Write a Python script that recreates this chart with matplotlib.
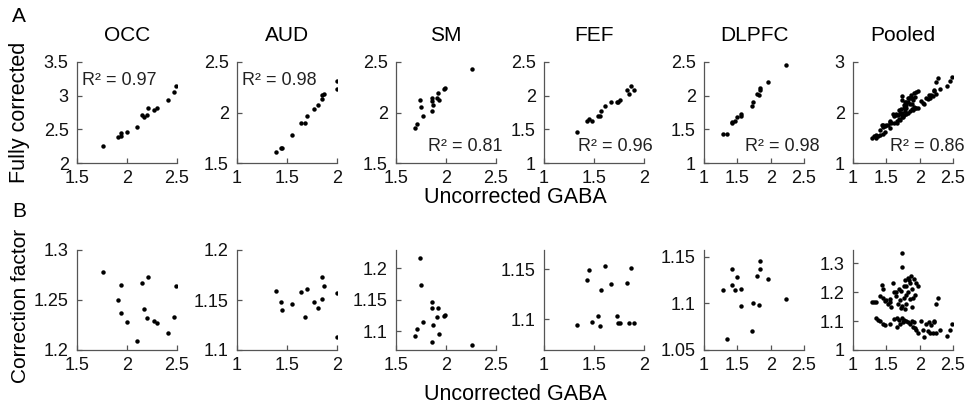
import matplotlib
matplotlib.use('Agg')
import matplotlib.pyplot as plt
import numpy as np
from matplotlib.ticker import FuncFormatter

plt.rcParams['font.family'] = ['Liberation Sans', 'DejaVu Sans']

# ---- data ----
regions = ['OCC', 'AUD', 'SM', 'FEF', 'DLPFC', 'Pooled']
r2_values = ['0.97', '0.98', '0.81', '0.96', '0.98', '0.86']

occ_unc = [1.76, 1.91, 1.94, 1.94, 2.00, 2.10, 2.15, 2.17, 2.20, 2.21, 2.27, 2.30, 2.41, 2.47, 2.49]
occ_full = [2.25, 2.39, 2.45, 2.40, 2.46, 2.54, 2.72, 2.69, 2.71, 2.81, 2.79, 2.82, 2.93, 3.05, 3.15]
occ_cf = [1.278, 1.250, 1.265, 1.237, 1.228, 1.209, 1.267, 1.241, 1.232, 1.273, 1.229, 1.227, 1.217, 1.233, 1.264]

aud_unc = [1.39, 1.44, 1.45, 1.55, 1.64, 1.68, 1.70, 1.77, 1.81, 1.85, 1.85, 1.87, 2.00, 2.00]
aud_full = [1.61, 1.65, 1.65, 1.78, 1.90, 1.90, 1.97, 2.03, 2.07, 2.17, 2.13, 2.18, 2.31, 2.23]
aud_cf = [1.159, 1.148, 1.140, 1.146, 1.158, 1.133, 1.161, 1.148, 1.142, 1.173, 1.151, 1.164, 1.157, 1.113]

sm_unc = [1.69, 1.71, 1.74, 1.75, 1.77, 1.86, 1.87, 1.86, 1.86, 1.91, 1.92, 1.93, 1.98, 1.99, 2.26]
sm_full = [1.85, 1.89, 2.12, 2.05, 1.97, 2.01, 2.07, 2.11, 2.14, 2.14, 2.19, 2.12, 2.23, 2.24, 2.43]
sm_cf = [1.092, 1.103, 1.217, 1.174, 1.115, 1.083, 1.110, 1.137, 1.147, 1.123, 1.137, 1.096, 1.124, 1.125, 1.078]

fef_unc = [1.33, 1.43, 1.45, 1.48, 1.54, 1.56, 1.57, 1.61, 1.67, 1.73, 1.74, 1.76, 1.83, 1.85, 1.87, 1.90]
fef_full = [1.46, 1.63, 1.66, 1.62, 1.70, 1.70, 1.77, 1.85, 1.90, 1.91, 1.91, 1.93, 2.08, 2.03, 2.15, 2.08]
fef_cf = [1.094, 1.139, 1.149, 1.097, 1.103, 1.093, 1.129, 1.153, 1.135, 1.103, 1.096, 1.096, 1.136, 1.096, 1.151, 1.096]

dlpfc_unc = [1.28, 1.35, 1.415, 1.415, 1.465, 1.50, 1.55, 1.55, 1.715, 1.74, 1.79, 1.83, 1.84, 1.84, 1.965, 2.23]
dlpfc_full = [1.43, 1.43, 1.61, 1.59, 1.63, 1.69, 1.73, 1.70, 1.84, 1.91, 2.02, 2.01, 2.11, 2.09, 2.21, 2.46]
dlpfc_cf = [1.114, 1.062, 1.137, 1.120, 1.114, 1.129, 1.116, 1.097, 1.070, 1.100, 1.130, 1.098, 1.146, 1.137, 1.126, 1.105]

pool_unc = [1.28, 1.31, 1.34, 1.40, 1.43, 1.45, 1.45, 1.48, 1.50, 1.52, 1.55, 1.57, 1.56, 1.60, 1.62, 1.65,
            1.69, 1.72, 1.70, 1.74, 1.74, 1.74, 1.76, 1.78, 1.80, 1.82, 1.84, 1.86, 1.80, 1.83, 1.88, 1.76,
            1.79, 1.85, 1.90, 1.93, 1.95, 1.88, 1.78, 1.72, 1.98, 1.92, 1.87, 1.68, 1.64,
            1.34, 1.38, 1.41, 1.45, 1.48, 1.56, 1.62, 1.66, 1.69, 1.73, 1.77, 1.66, 1.70, 1.75, 1.80, 1.83,
            1.86, 1.88, 1.90, 1.93, 1.95, 1.97, 1.92,
            2.07, 2.10, 2.14, 2.17, 2.12, 2.16, 2.20, 2.24, 2.22, 2.21, 2.25, 2.28, 2.30, 2.41, 2.46, 2.48,
            2.02, 2.05]
pool_full = [1.49, 1.53, 1.56, 1.66, 1.75, 1.76, 1.71, 1.73, 1.76, 1.76, 1.81, 1.80, 1.83, 1.97, 1.94, 1.96,
             2.05, 2.07, 2.00, 2.00, 2.32, 2.24, 2.15, 2.21, 2.20, 2.28, 2.28, 2.29, 2.14, 2.20, 2.28, 2.08,
             2.08, 2.17, 2.24, 2.30, 2.40, 2.16, 2.03, 1.97, 2.42, 2.39, 2.35, 1.95, 1.97,
             1.49, 1.53, 1.55, 1.58, 1.61, 1.70, 1.79, 1.84, 1.87, 1.92, 1.96, 1.79, 1.85, 1.92, 1.98, 2.00,
             2.03, 2.07, 2.05, 2.08, 2.09, 2.09, 2.10,
             2.16, 2.29, 2.34, 2.35, 2.26, 2.29, 2.33, 2.37, 2.44, 2.42, 2.61, 2.69, 2.46, 2.53, 2.63, 2.70,
             2.22, 2.19]
pool_cf = [1.165, 1.165, 1.165, 1.188, 1.223, 1.212, 1.178, 1.170, 1.172, 1.160, 1.165, 1.148, 1.175, 1.231, 1.200, 1.185,
           1.212, 1.203, 1.174, 1.151, 1.335, 1.287, 1.220, 1.240, 1.220, 1.250, 1.240, 1.230, 1.190, 1.200, 1.210, 1.180,
           1.160, 1.175, 1.180, 1.190, 1.230, 1.150, 1.140, 1.145, 1.220, 1.245, 1.255, 1.160, 1.200,
           1.110, 1.105, 1.100, 1.090, 1.085, 1.090, 1.107, 1.110, 1.105, 1.110, 1.105, 1.080, 1.090, 1.095, 1.100, 1.095,
           1.090, 1.100, 1.080, 1.075, 1.070, 1.060, 1.095,
           1.045, 1.090, 1.095, 1.085, 1.065, 1.060, 1.060, 1.060, 1.100, 1.095, 1.160, 1.180, 1.070, 1.050, 1.070, 1.090,
           1.100, 1.070]

unc_data = [occ_unc, aud_unc, sm_unc, fef_unc, dlpfc_unc, pool_unc]
full_data = [occ_full, aud_full, sm_full, fef_full, dlpfc_full, pool_full]
cf_data = [occ_cf, aud_cf, sm_cf, fef_cf, dlpfc_cf, pool_cf]

# ---- axis settings ----
xlims = [(1.5, 2.5), (1, 2), (1.5, 2.5), (1, 2), (1, 2.5), (1, 2.5)]
top_ylims = [(2, 3.5), (1.5, 2.5), (1.5, 2.5), (1, 2.5), (1, 2.5), (1, 3)]
top_yticks = [[2, 2.5, 3, 3.5], [1.5, 2, 2.5], [1.5, 2, 2.5], [1, 1.5, 2, 2.5], [1, 1.5, 2, 2.5], [1, 2, 3]]
bot_ylims = [(1.2, 1.3), (1.1, 1.2), (1.07, 1.229), (1.069, 1.169), (1.05, 1.1575), (1, 1.345)]
bot_yticks = [[1.2, 1.25, 1.3], [1.1, 1.15, 1.2], [1.1, 1.15, 1.2], [1.1, 1.15], [1.05, 1.1, 1.15], [1, 1.1, 1.2, 1.3]]
# R^2 text position (axes fraction, left anchored)
r2_pos = [(0.05, 0.82), (0.05, 0.82), (0.32, 0.16), (0.34, 0.16), (0.41, 0.16), (0.37, 0.16)]

W, H = 972, 409
lefts = [77, 237, 396, 544, 704, 853]
axcol = '#555555'
fmt = FuncFormatter(lambda v, p: '%g' % v)


def style(ax, xl, yl, yt):
    ax.set_xlim(xl)
    ax.set_ylim(yl)
    ax.set_xticks(np.arange(xl[0], xl[1] + 0.01, 0.5))
    ax.set_yticks(yt)
    ax.xaxis.set_major_formatter(fmt)
    ax.yaxis.set_major_formatter(fmt)
    for s in ['top', 'right']:
        ax.spines[s].set_visible(False)
    for s in ['left', 'bottom']:
        ax.spines[s].set_color(axcol)
        ax.spines[s].set_linewidth(0.9)
    ax.tick_params(direction='in', length=3.5, width=0.9, color=axcol,
                   labelsize=13, labelcolor='#111111')
    ax.tick_params(axis='x', pad=5)
    ax.tick_params(axis='y', pad=6)


fig = plt.figure(figsize=(W / 100, H / 100), dpi=100)

for i, name in enumerate(regions):
    l = lefts[i] / W
    w = 100 / W
    # row A
    ax = fig.add_axes([l, (H - 163) / H, w, 101 / H])
    ax.plot(unc_data[i], full_data[i], 'o', color='black', markersize=3.2, markeredgewidth=0)
    style(ax, xlims[i], top_ylims[i], top_yticks[i])
    ax.set_title(name, fontsize=15, pad=15)
    ax.text(r2_pos[i][0], r2_pos[i][1], 'R² = ' + r2_values[i], transform=ax.transAxes,
            fontsize=13, ha='left', va='center', color='#222222')
    # row B
    ax2 = fig.add_axes([l, (H - 350) / H, w, 100 / H])
    ax2.plot(unc_data[i], cf_data[i], 'o', color='black', markersize=3.2, markeredgewidth=0)
    style(ax2, xlims[i], bot_ylims[i], bot_yticks[i])

fig.text(515 / W, 1 - 197 / H, 'Uncorrected GABA', fontsize=15.5, ha='center', va='center')
fig.text(515 / W, 1 - 395 / H, 'Uncorrected GABA', fontsize=15.5, ha='center', va='center')
fig.text(20 / W, 1 - 112 / H, 'Fully corrected', fontsize=15.5, rotation=90, ha='center', va='center')
fig.text(20 / W, 1 - 306 / H, 'Correction factor', fontsize=15, rotation=90, ha='center', va='center')
fig.text(12 / W, 1 - 17 / H, 'A', fontsize=15, ha='left', va='center')
fig.text(12 / W, 1 - 212 / H, 'B', fontsize=15, ha='left', va='center')

fig.savefig('out.png', dpi=100)
